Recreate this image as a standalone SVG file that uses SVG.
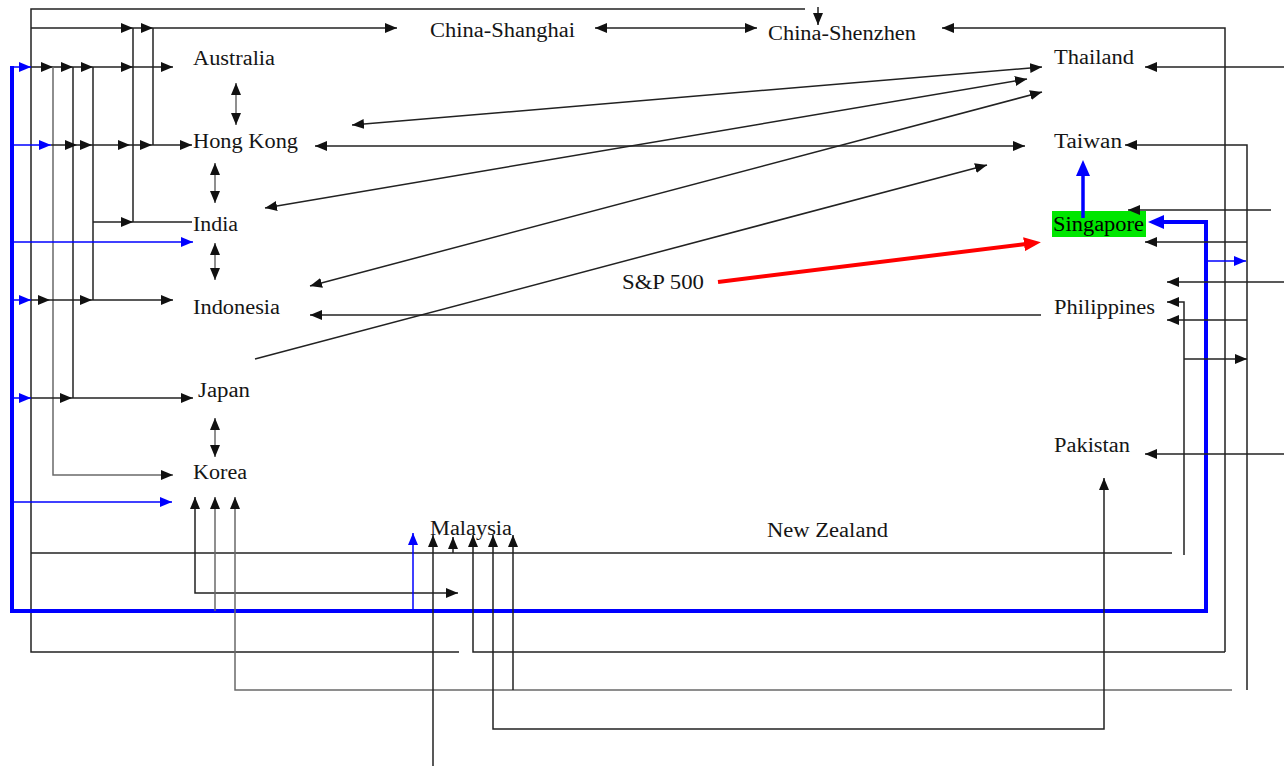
<svg xmlns="http://www.w3.org/2000/svg" width="1284" height="766" viewBox="0 0 1284 766">
<style>
.t{font-family:"Liberation Serif","Times New Roman",serif;font-size:20px;fill:#151515}
.k{stroke:#222;stroke-width:1.5;fill:none}
.g{stroke:#6a6a6a;stroke-width:1.5;fill:none}
.b{stroke:#0000ff;stroke-width:1.5;fill:none}
.B{stroke:#0000ff;stroke-width:4;fill:none}
.R{stroke:#ff0000;stroke-width:4;fill:none}
</style>
<defs>
<marker id="ah" viewBox="0 0 12 10" refX="12" refY="5" markerWidth="12" markerHeight="10" markerUnits="userSpaceOnUse" orient="auto-start-reverse"><path d="M0,0L12,5L0,10z" fill="#111"/></marker>
<marker id="ahb" viewBox="0 0 12 10" refX="12" refY="5" markerWidth="12" markerHeight="10" markerUnits="userSpaceOnUse" orient="auto-start-reverse"><path d="M0,0L12,5L0,10z" fill="#0000ff"/></marker>
<marker id="ahB" viewBox="0 0 16 14" refX="2" refY="7" markerWidth="16" markerHeight="14" markerUnits="userSpaceOnUse" orient="auto"><path d="M0,0L16,7L0,14z" fill="#0000ff"/></marker>
<marker id="ahR" viewBox="0 0 17 14" refX="2" refY="7" markerWidth="17" markerHeight="14" markerUnits="userSpaceOnUse" orient="auto"><path d="M0,0L17,7L0,14z" fill="#ff0000"/></marker>
</defs>
<g id="nodes">
<g id="china-shanghai"><text class="t" x="430" y="37" textLength="145" lengthAdjust="spacingAndGlyphs">China-Shanghai</text></g>
<g id="china-shenzhen"><text class="t" x="768" y="40" textLength="148" lengthAdjust="spacingAndGlyphs">China-Shenzhen</text></g>
<g id="australia"><text class="t" x="193" y="65" textLength="82" lengthAdjust="spacingAndGlyphs">Australia</text></g>
<g id="hong-kong"><text class="t" x="193" y="148" textLength="105" lengthAdjust="spacingAndGlyphs">Hong Kong</text></g>
<g id="india"><text class="t" x="193" y="231" textLength="45" lengthAdjust="spacingAndGlyphs">India</text></g>
<g id="indonesia"><text class="t" x="193" y="314" textLength="87" lengthAdjust="spacingAndGlyphs">Indonesia</text></g>
<g id="japan"><text class="t" x="198" y="397" textLength="52" lengthAdjust="spacingAndGlyphs">Japan</text></g>
<g id="korea"><text class="t" x="193" y="479" textLength="54" lengthAdjust="spacingAndGlyphs">Korea</text></g>
<g id="malaysia"><text class="t" x="430" y="535" textLength="82" lengthAdjust="spacingAndGlyphs">Malaysia</text></g>
<g id="new-zealand"><text class="t" x="767" y="537" textLength="121" lengthAdjust="spacingAndGlyphs">New Zealand</text></g>
<g id="sp500"><text class="t" x="622" y="289" textLength="82" lengthAdjust="spacingAndGlyphs">S&amp;P 500</text></g>
<g id="thailand"><text class="t" x="1054" y="64" textLength="80" lengthAdjust="spacingAndGlyphs">Thailand</text></g>
<g id="taiwan"><text class="t" x="1054" y="148" textLength="68" lengthAdjust="spacingAndGlyphs">Taiwan</text></g>
<g id="singapore"><rect x="1052" y="211" width="94" height="26" fill="#00e600"/><text class="t" x="1053" y="231" textLength="91" lengthAdjust="spacingAndGlyphs" style="fill:#000">Singapore</text></g>
<g id="philippines"><text class="t" x="1054" y="314" textLength="101" lengthAdjust="spacingAndGlyphs">Philippines</text></g>
<g id="pakistan"><text class="t" x="1054" y="452" textLength="76" lengthAdjust="spacingAndGlyphs">Pakistan</text></g>
</g>
<g id="connectors">
<path class="k" d="M805,9 H31 V652 H459"/>
<path class="k" d="M31,553 H1172"/>
<path class="k" d="M818,7 V25" marker-end="url(#ah)"/>
<path class="k" d="M31,28 H133" marker-end="url(#ah)"/>
<path class="k" d="M133,28 H153" marker-end="url(#ah)"/>
<path class="k" d="M153,28 H397" marker-end="url(#ah)"/>
<path class="k" d="M133,28 V222"/>
<path class="k" d="M153,28 V145"/>
<path class="B" d="M12,66 V611 H1206 V222 H1162" marker-end="url(#ahB)"/>
<path class="b" d="M12,67 H31" marker-end="url(#ahb)"/>
<path class="k" d="M31,67 H53" marker-end="url(#ah)"/>
<path class="k" d="M53,67 H73" marker-end="url(#ah)"/>
<path class="k" d="M73,67 H93" marker-end="url(#ah)"/>
<path class="k" d="M93,67 H133" marker-end="url(#ah)"/>
<path class="k" d="M133,67 H173" marker-end="url(#ah)"/>
<path class="g" d="M53,67 V475 H173" marker-end="url(#ah)"/>
<path class="k" d="M73,67 V398"/>
<path class="k" d="M93,67 V300"/>
<path class="b" d="M12,145 H51" marker-end="url(#ahb)"/>
<path class="k" d="M51,145 H77" marker-end="url(#ah)"/>
<path class="k" d="M77,145 H92" marker-end="url(#ah)"/>
<path class="k" d="M92,145 H130" marker-end="url(#ah)"/>
<path class="k" d="M130,145 H152" marker-end="url(#ah)"/>
<path class="k" d="M152,145 H192" marker-end="url(#ah)"/>
<path class="k" d="M93,222 H133" marker-end="url(#ah)"/>
<path class="k" d="M133,222 H192"/>
<path class="b" d="M12,242 H193" marker-end="url(#ahb)"/>
<path class="b" d="M12,300 H31" marker-end="url(#ahb)"/>
<path class="k" d="M31,300 H50" marker-end="url(#ah)"/>
<path class="k" d="M50,300 H92" marker-end="url(#ah)"/>
<path class="k" d="M92,300 H173" marker-end="url(#ah)"/>
<path class="b" d="M12,398 H31" marker-end="url(#ahb)"/>
<path class="k" d="M31,398 H72" marker-end="url(#ah)"/>
<path class="k" d="M72,398 H193" marker-end="url(#ah)"/>
<path class="b" d="M12,502 H172" marker-end="url(#ahb)"/>
<path class="k" d="M458,593 H195 V497" marker-start="url(#ah)" marker-end="url(#ah)"/>
<path class="g" d="M215,611 V497" marker-end="url(#ah)"/>
<path class="g" d="M235,497 V690 H1232" marker-start="url(#ah)"/>
<path class="g" d="M236,83 V125" marker-start="url(#ah)" marker-end="url(#ah)"/>
<path class="g" d="M215,163 V203" marker-start="url(#ah)" marker-end="url(#ah)"/>
<path class="g" d="M215,243 V280" marker-start="url(#ah)" marker-end="url(#ah)"/>
<path class="g" d="M215,418 V457" marker-start="url(#ah)" marker-end="url(#ah)"/>
<path class="b" d="M413,611 V533" marker-end="url(#ahb)"/>
<path class="k" d="M433,766 V535" marker-end="url(#ah)"/>
<path class="k" d="M453,553 V537" marker-end="url(#ah)"/>
<path class="k" d="M1225,652 H473 V535" marker-end="url(#ah)"/>
<path class="k" d="M1104,478 V729 H493 V535" marker-start="url(#ah)" marker-end="url(#ah)"/>
<path class="k" d="M513,690 V535" marker-end="url(#ah)"/>
<path class="k" d="M595,28 H757" marker-start="url(#ah)" marker-end="url(#ah)"/>
<path class="k" d="M942,28 H1225 V652" marker-start="url(#ah)"/>
<path class="k" d="M1125,145 H1247 V690" marker-start="url(#ah)"/>
<path class="k" d="M1284,67 H1145" marker-end="url(#ah)"/>
<path class="k" d="M1271,210 H1128" marker-end="url(#ah)"/>
<path class="k" d="M1247,242 H1145" marker-end="url(#ah)"/>
<path class="b" d="M1206,261 H1246" marker-end="url(#ahb)"/>
<path class="k" d="M1284,282 H1167" marker-end="url(#ah)"/>
<path class="k" d="M1167,302 H1184 V555" marker-start="url(#ah)"/>
<path class="k" d="M1247,320 H1167" marker-end="url(#ah)"/>
<path class="k" d="M1184,359 H1247" marker-end="url(#ah)"/>
<path class="k" d="M1284,454 H1145" marker-end="url(#ah)"/>
<path class="k" d="M352,125 L1042,67" marker-start="url(#ah)" marker-end="url(#ah)"/>
<path class="k" d="M265,208 L1027,79" marker-start="url(#ah)" marker-end="url(#ah)"/>
<path class="k" d="M310,286 L1042,92" marker-start="url(#ah)" marker-end="url(#ah)"/>
<path class="k" d="M255,359 L987,165" marker-end="url(#ah)"/>
<path class="k" d="M315,146 H1025" marker-start="url(#ah)" marker-end="url(#ah)"/>
<path class="k" d="M1041,315 H310" marker-end="url(#ah)"/>
<path class="R" d="M718,282 L1026,244" marker-end="url(#ahR)"/>
<path class="B" d="M1083,218 V174" style="stroke-width:3.5" marker-end="url(#ahB)"/>
</g>
</svg>
